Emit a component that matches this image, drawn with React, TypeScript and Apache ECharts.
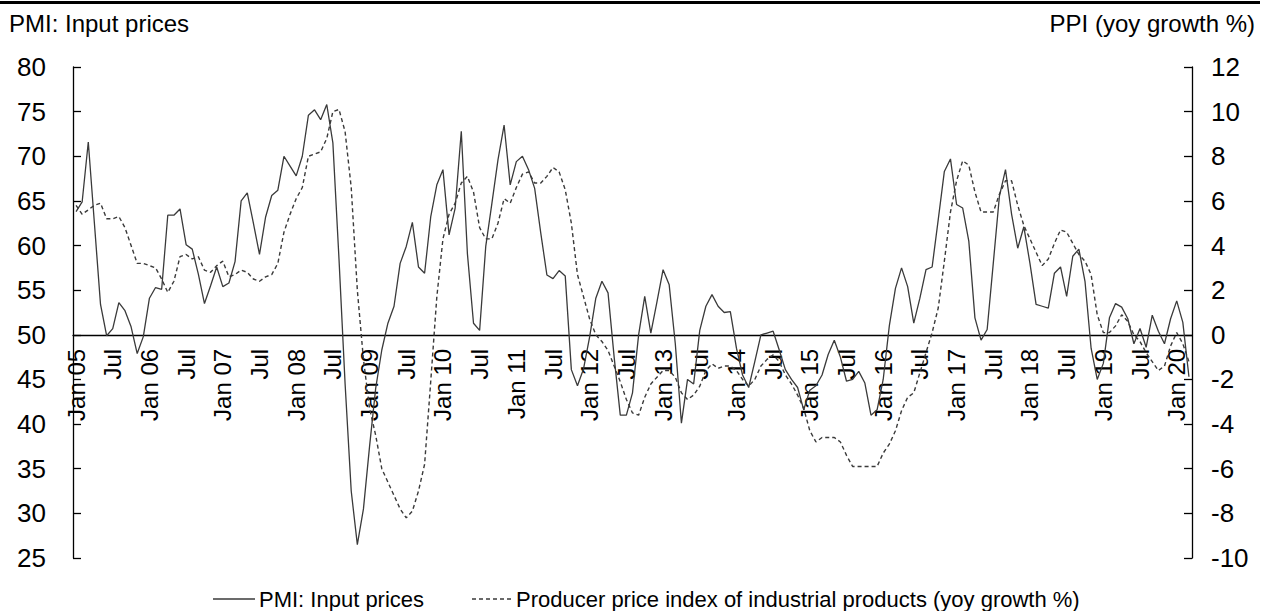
import React, { useEffect, useRef } from "react";
import * as echarts from "echarts";

const monthNames = ["Jan", "Feb", "Mar", "Apr", "May", "Jun", "Jul", "Aug", "Sep", "Oct", "Nov", "Dec"];
const firstYear = 2005;
const lastYear = 2020;
const lastMonthIndex = 2; // Mar 2020

const categories: string[] = [];
for (let y = firstYear; y <= lastYear; y++) {
  for (let m = 0; m < 12; m++) {
    if (y === lastYear && m > lastMonthIndex) break;
    categories.push(`${monthNames[m]} ${String(y).slice(2)}`);
  }
}

// PMI: Input prices (left axis)
const pmiInput: number[] = [
  63.8, 64.9, 71.6, 62.5, 53.4, 49.9, 50.7, 53.6, 52.7, 50.9, 47.9, 49.8,
  54.1, 55.3, 55.1, 63.4, 63.4, 64.1, 60.1, 59.6, 56.8, 53.5, 55.5, 57.6,
  55.4, 55.8, 58.2, 65.0, 65.9, 62.5, 59.0, 63.2, 65.6, 66.2, 70.0, 68.9,
  67.8, 70.0, 74.6, 75.2, 74.1, 75.8, 71.5, 58.5, 44.5, 32.5, 26.5, 30.5,
  37.5, 44.0, 48.3, 51.3, 53.2, 58.0, 59.9, 62.6, 57.6, 56.9, 63.2, 66.8,
  68.5, 61.2, 64.2, 72.8, 59.1, 51.3, 50.5, 59.9, 64.7, 69.6, 73.5, 66.8,
  69.4, 70.0, 68.5, 66.4, 61.4, 56.7, 56.3, 57.2, 56.6, 46.1, 44.3, 46.2,
  49.8, 54.1, 56.0, 54.7, 47.5, 41.0, 41.0, 43.5, 50.0, 54.3, 50.2, 53.7,
  57.3, 55.6, 49.0, 40.1, 45.0, 44.5, 50.5, 53.2, 54.5, 53.2, 52.5, 52.6,
  48.5, 45.5, 44.1, 47.0, 50.0, 50.2, 50.4, 48.3, 46.1, 45.0, 44.1, 41.6,
  43.8, 44.3, 45.5, 47.8, 49.4, 47.5, 44.8, 45.0, 45.9, 44.6, 41.0, 41.6,
  45.0, 51.0, 55.2, 57.5, 55.4, 51.3, 54.1, 57.3, 57.6, 62.9, 68.3, 69.7,
  64.6, 64.2, 60.5, 51.9, 49.4, 50.6, 58.0, 65.5, 68.5, 63.5, 59.7, 62.1,
  58.0, 53.4, 53.2, 53.0, 56.9, 57.6, 54.3, 58.8, 59.6, 56.0, 48.5, 45.0,
  46.8, 51.9, 53.5, 53.1, 51.8, 49.0, 50.7, 48.6, 52.2, 50.4, 49.0, 51.8,
  53.8, 51.4, 45.3,
];

// Producer price index of industrial products, yoy % (right axis)
const ppiYoy: number[] = [
  5.8, 5.4, 5.6, 5.8, 5.9, 5.2, 5.2, 5.3, 4.8, 4.0, 3.2, 3.2,
  3.1, 3.0, 2.5, 1.9, 2.4, 3.5, 3.6, 3.4, 3.5, 2.9, 2.8, 3.1,
  3.3, 2.6, 2.7, 2.9, 2.8, 2.5, 2.4, 2.6, 2.7, 3.2, 4.6, 5.4,
  6.1, 6.6, 8.0, 8.1, 8.2, 8.8, 10.0, 10.1, 9.1, 6.6, 2.0, -1.1,
  -3.3, -4.5, -6.0, -6.6, -7.2, -7.8, -8.2, -7.9, -7.0, -5.8, -2.1, 1.7,
  4.3, 5.4, 5.9, 6.8, 7.1, 6.4, 4.8, 4.3, 4.3, 5.0, 6.1, 5.9,
  6.6, 7.2, 7.3, 6.8, 6.8, 7.1, 7.5, 7.3, 6.5, 5.0, 2.7, 1.7,
  0.7, 0.0, -0.3, -0.7, -1.4, -2.1, -2.9, -3.5, -3.6, -2.8, -2.2, -1.9,
  -1.6, -1.6, -1.9, -2.6, -2.9, -2.7, -2.3, -1.6, -1.3, -1.5, -1.4, -1.4,
  -1.6, -2.0, -2.3, -2.0, -1.4, -1.1, -0.9, -1.2, -1.8, -2.2, -2.7, -3.3,
  -4.3, -4.8, -4.6, -4.6, -4.6, -4.8, -5.4, -5.9, -5.9, -5.9, -5.9, -5.9,
  -5.3, -4.9, -4.3, -3.4, -2.8, -2.6, -1.7, -0.8, 0.1, 1.2, 3.3, 5.5,
  6.9, 7.8, 7.6, 6.4, 5.5, 5.5, 5.5, 6.3, 6.9, 6.9, 5.8, 4.9,
  4.3, 3.7, 3.1, 3.4, 4.1, 4.7, 4.6, 4.1, 3.6, 3.3, 2.7, 0.9,
  0.1, 0.1, 0.4, 0.9, 0.6, 0.0, -0.3, -0.8, -1.2, -1.6, -1.4, -0.5,
  0.1, -0.4, -1.2,
];

const leftTicks = { min: 25, max: 80, interval: 5 };
const rightTicks = { min: -10, max: 12, interval: 2 };
const crossValue = 50; // left-axis value where the category axis sits

const seriesNames = ["PMI: Input prices", "Producer price index of industrial products (yoy growth %)"];
const titleLeft = "PMI: Input prices";
const titleRight = "PPI (yoy growth %)";

const FONT = "'Liberation Sans', Arial, Helvetica, sans-serif";
const LINE_COLOR = "#3a3a3a";

const W = 1265;
const H = 611;
const GRID = { left: 73, right: 73, top: 67, bottom: 53 };

export default function App() {
  const ref = useRef<HTMLDivElement>(null);

  useEffect(() => {
    document.body.style.margin = "0";
    if (!ref.current) return;
    const chart = echarts.init(ref.current, null, { renderer: "svg" });
    const plotH = H - GRID.top - GRID.bottom;
    const crossY = GRID.top + ((leftTicks.max - crossValue) / (leftTicks.max - leftTicks.min)) * plotH;
    const axisOffset = -(H - GRID.bottom - crossY);
    const legendY = 599;
    const legendFont = `22px ${FONT}`;
    chart.setOption({
      animation: false,
      backgroundColor: "#ffffff",
      textStyle: { fontFamily: FONT },
      title: [
        {
          text: titleLeft,
          left: 4,
          top: 6,
          textStyle: { fontFamily: FONT, fontSize: 24, fontWeight: "normal", color: "#000" },
        },
        {
          text: titleRight,
          right: 5,
          top: 6,
          textStyle: { fontFamily: FONT, fontSize: 24, fontWeight: "normal", color: "#000" },
        },
      ],
      graphic: [
        { type: "rect", shape: { x: 0, y: 1, width: 1260, height: 3 }, style: { fill: "#000" } },
        {
          type: "line",
          shape: { x1: 213, y1: legendY, x2: 255, y2: legendY },
          style: { stroke: LINE_COLOR, lineWidth: 1.3 },
        },
        {
          type: "text",
          x: 259,
          y: legendY,
          style: { text: seriesNames[0], font: legendFont, fill: "#000", verticalAlign: "middle" },
        },
        {
          type: "line",
          shape: { x1: 472, y1: legendY, x2: 511, y2: legendY },
          style: { stroke: LINE_COLOR, lineWidth: 1.4, lineDash: [4, 3] },
        },
        {
          type: "text",
          x: 516,
          y: legendY,
          style: { text: seriesNames[1], font: legendFont, fill: "#000", verticalAlign: "middle" },
        },
      ],
      grid: { ...GRID, containLabel: false, outerBoundsMode: "none" },
      xAxis: {
        type: "category",
        data: categories,
        boundaryGap: true,
        offset: axisOffset,
        axisLine: { onZero: false, lineStyle: { color: "#000", width: 1.3 } },
        axisTick: { show: false },
        axisLabel: {
          interval: 5,
          rotate: 90,
          margin: 14,
          fontSize: 24,
          fontFamily: FONT,
          color: "#000",
          formatter: (v: string) => (v.startsWith("Jan") ? v : v.slice(0, 3)),
        },
        splitLine: { show: false },
      },
      yAxis: [
        {
          type: "value",
          position: "left",
          min: leftTicks.min,
          max: leftTicks.max,
          interval: leftTicks.interval,
          axisLine: { show: true, onZero: false, lineStyle: { color: "#000", width: 1.3 } },
          axisTick: { show: true, inside: true, length: 8, lineStyle: { color: "#000", width: 1.3 } },
          axisLabel: { fontSize: 26, fontFamily: FONT, color: "#000", margin: 27 },
          splitLine: { show: false },
        },
        {
          type: "value",
          position: "right",
          min: rightTicks.min,
          max: rightTicks.max,
          interval: rightTicks.interval,
          axisLine: { show: true, onZero: false, lineStyle: { color: "#000", width: 1.3 } },
          axisTick: { show: true, inside: true, length: 8, lineStyle: { color: "#000", width: 1.3 } },
          axisLabel: { fontSize: 26, fontFamily: FONT, color: "#000", margin: 19, align: "left" },
          splitLine: { show: false },
        },
      ],
      series: [
        {
          name: seriesNames[0],
          type: "line",
          yAxisIndex: 0,
          data: pmiInput,
          showSymbol: false,
          symbol: "none",
          lineStyle: { color: LINE_COLOR, width: 1.3 },
          itemStyle: { color: LINE_COLOR },
        },
        {
          name: seriesNames[1],
          type: "line",
          yAxisIndex: 1,
          data: ppiYoy,
          showSymbol: false,
          symbol: "none",
          lineStyle: { color: LINE_COLOR, width: 1.4, type: [4, 3] },
          itemStyle: { color: LINE_COLOR },
        },
      ],
    });
    return () => chart.dispose();
  }, []);

  return <div ref={ref} style={{ width: W, height: H }} />;
}
